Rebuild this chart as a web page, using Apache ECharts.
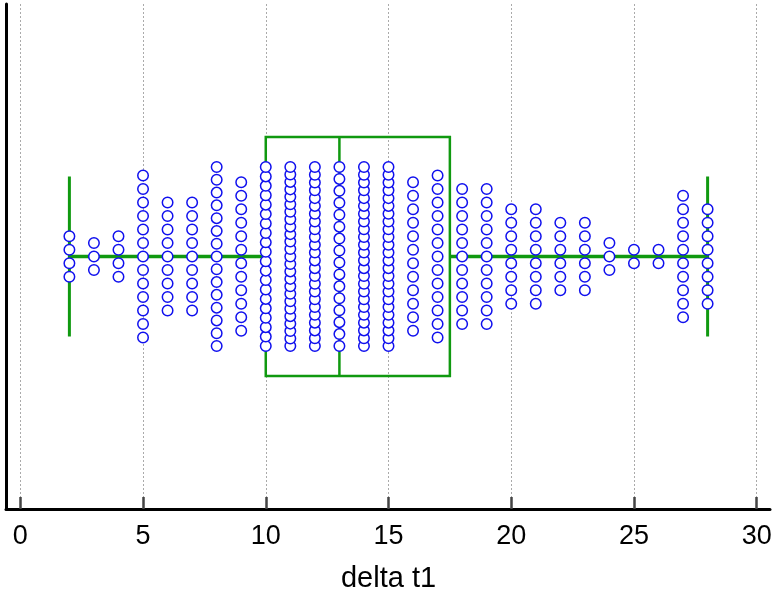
<!DOCTYPE html>
<html>
<head>
<meta charset="utf-8">
<script src="https://cdn.jsdelivr.net/npm/echarts@6/dist/echarts.min.js"></script>
<style>
  html, body { margin: 0; padding: 0; background: #fff; }
  #chart { width: 773px; height: 591px; }
</style>
</head>
<body>
<div id="chart"></div>
<script>
  // values of delta t1 and how many observations have each value
  const values = [2, 3, 4, 5, 6, 7, 8, 9, 10, 11, 12, 13, 14, 15, 16, 17, 18, 19, 20, 21, 22, 23, 24, 25, 26, 27, 28];
  const counts = [4, 3, 4, 13, 9, 9, 15, 12, 20, 25, 24, 16, 24, 24, 12, 13, 11, 11, 8, 8, 6, 6, 3, 2, 2, 10, 8];
  // box summary: min, q1, median, q3, max
  const boxStats = [2, 10, 13, 17.5, 28];
  const xTicks = [0, 5, 10, 15, 20, 25, 30];

  const green = '#109910';
  const blue = '#1010ee';

  const plotHeight = 505;            // grid height in px
  const pxPerUnit = plotHeight / 2;  // y axis runs -1..1
  const maxStep = 13.5;              // px between stacked dots
  const maxSpan = 179;               // px, tallest stack

  // stack the dots of each value vertically around the centre line
  let dots = [];
  values.forEach((v, k) => {
    const n = counts[k];
    const step = n > 1 ? Math.min(maxStep, maxSpan / (n - 1)) / pxPerUnit : 0;
    for (let i = 0; i < n; i++) {
      dots.push([v, (i - (n - 1) / 2) * step]);
    }
  });

  const myChart = echarts.init(document.getElementById('chart'));

  myChart.setOption({
    animation: false,
    grid: [
      { left: 6, right: 3, top: 4, bottom: 82, outerBoundsMode: 'none' },
      { left: 20.3, right: 16.3, top: 4, bottom: 82, outerBoundsMode: 'none' }
    ],
    xAxis: [
      {
        gridIndex: 0,
        type: 'value',
        min: 0, max: 1,
        axisLine: { show: true, onZero: false, lineStyle: { color: '#000', width: 3 } },
        axisTick: { show: false },
        axisLabel: { show: false },
        splitLine: { show: false }
      },
      {
        gridIndex: 1,
        type: 'value',
        min: xTicks[0],
        max: xTicks[xTicks.length - 1],
        interval: 5,
        name: 'delta t1',
        nameLocation: 'middle',
        nameGap: 55,
        nameTextStyle: { color: '#000', fontSize: 29, fontFamily: 'Liberation Sans' },
        axisLine: { show: false, onZero: false },
        axisTick: { show: true, inside: true, length: 12, lineStyle: { color: '#444', width: 2.5 } },
        axisLabel: {
          margin: 14,
          fontSize: 27,
          color: '#000',
          fontFamily: 'Liberation Sans',
          customValues: xTicks
        },
        splitLine: { show: true, lineStyle: { color: '#aaa', width: 1, type: [2, 2] } }
      }
    ],
    yAxis: [
      {
        gridIndex: 0,
        type: 'value',
        min: 0, max: 1,
        axisLine: { show: true, onZero: false, lineStyle: { color: '#000', width: 3 } },
        axisTick: { show: false },
        axisLabel: { show: false },
        splitLine: { show: false }
      },
      {
        gridIndex: 1,
        type: 'value',
        min: -1, max: 1,
        show: false,
        splitLine: { show: false }
      }
    ],
    series: [
      {
        type: 'custom',
        xAxisIndex: 1,
        yAxisIndex: 1,
        z: 2,
        data: [boxStats],
        renderItem: function (params, api) {
          const cy = api.coord([0, 0])[1];
          const xMin = api.coord([api.value(0), 0])[0];
          const xQ1 = api.coord([api.value(1), 0])[0];
          const xMed = api.coord([api.value(2), 0])[0];
          const xQ3 = api.coord([api.value(3), 0])[0];
          const xMax = api.coord([api.value(4), 0])[0];
          const boxHalf = 119.5;
          const capHalf = 80;
          const lineW = { stroke: green, lineWidth: 2.5 };
          return {
            type: 'group',
            children: [
              { type: 'line', shape: { x1: xMin, y1: cy, x2: xQ1, y2: cy }, style: { stroke: green, lineWidth: 3.5 } },
              { type: 'line', shape: { x1: xQ3, y1: cy, x2: xMax, y2: cy }, style: { stroke: green, lineWidth: 3.5 } },
              { type: 'line', shape: { x1: xMin, y1: cy - capHalf, x2: xMin, y2: cy + capHalf }, style: { stroke: green, lineWidth: 3 } },
              { type: 'line', shape: { x1: xMax, y1: cy - capHalf, x2: xMax, y2: cy + capHalf }, style: { stroke: green, lineWidth: 3 } },
              { type: 'rect', shape: { x: xQ1, y: cy - boxHalf, width: xQ3 - xQ1, height: boxHalf * 2 }, style: Object.assign({ fill: 'none' }, lineW) },
              { type: 'line', shape: { x1: xMed, y1: cy - boxHalf, x2: xMed, y2: cy + boxHalf }, style: lineW }
            ]
          };
        }
      },
      {
        type: 'scatter',
        xAxisIndex: 1,
        yAxisIndex: 1,
        z: 3,
        symbol: 'circle',
        symbolSize: 10.5,
        itemStyle: { color: '#fff', borderColor: blue, borderWidth: 1.5, opacity: 1 },
        data: dots
      }
    ]
  });
</script>
</body>
</html>
